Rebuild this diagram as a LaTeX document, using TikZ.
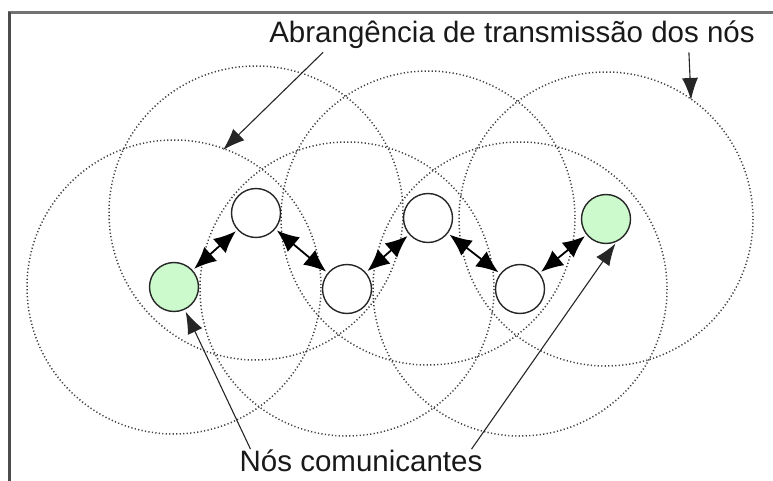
\documentclass[tikz,border=0pt]{standalone}
\usepackage{fontspec}
\setmainfont{Liberation Sans}
\usetikzlibrary{arrows.meta,backgrounds}

\definecolor{nodegreen}{RGB}{204,250,204}

\tikzset{
  station/.style={circle,draw=black!85,line width=1.4pt,fill=white,
    minimum size=49pt,inner sep=0pt},
  endpoint/.style={station,fill=nodegreen},
  range ring/.style={draw=black!75,line width=1.5pt,
    dash pattern=on 1.2pt off 2.3pt},
  link/.style={line width=1.8pt,
    {Latex[length=22pt,width=19pt]}-{Latex[length=22pt,width=19pt]},
    shorten <=2pt,shorten >=2pt},
  pointer/.style={draw=black!85,line width=1.1pt,
    -{Latex[length=22pt,width=16pt]}},
  caption/.style={inner sep=0pt,font=\fontsize{29.5}{32}\selectfont,
    text=black!90}
}

\begin{document}
\begin{tikzpicture}[x=1pt,y=-1pt]

        \useasboundingbox (0,0) rectangle (773,481);

        % frame
        \draw[black!55,line width=3pt] (8,13) -- (773,13);
        \draw[black!70,line width=3pt] (9,12) -- (9,481);

        % nodes of the chain
        \node[endpoint] (gl) at (174,287) {};
        \node[station]  (w1) at (256,213) {};
        \node[station]  (w2) at (347,289) {};
        \node[station]  (w3) at (428,218) {};
        \node[station]  (w4) at (520,289) {};
        \node[endpoint] (gr) at (606,219) {};

        % transmission ranges
        \begin{scope}[on background layer]
          \foreach \n in {gl,w1,w2,w3,w4,gr}{
            \draw[range ring] (\n) circle[radius=147];
          }
        \end{scope}

        % links between neighbours
        \draw[link] (gl) -- (w1);
        \draw[link] (w1) -- (w2);
        \draw[link] (w2) -- (w3);
        \draw[link] (w3) -- (w4);
        \draw[link] (w4) -- (gr);

        % labels
        \node[caption,anchor=base] (range) at (512,43)
          {Abrangência de transmissão dos nós};
        \node[caption,anchor=base] (comm) at (361,471)
          {Nós comunicantes};

        \coordinate (ringA) at (223,150);
        \coordinate (ringB) at (691,100);

        \draw[pointer] ([xshift=54pt,yshift=-3pt]range.south west) -- (ringA);
        \draw[pointer] ([xshift=-66pt,yshift=-3pt]range.south east) -- (ringB);

        \draw[pointer,shorten >=2pt] ([xshift=11pt]comm.north west) -- (gl);
        \draw[pointer,shorten >=2pt] ([xshift=-11pt]comm.north east) -- (gr.-65);
      \end{tikzpicture}
\end{document}
